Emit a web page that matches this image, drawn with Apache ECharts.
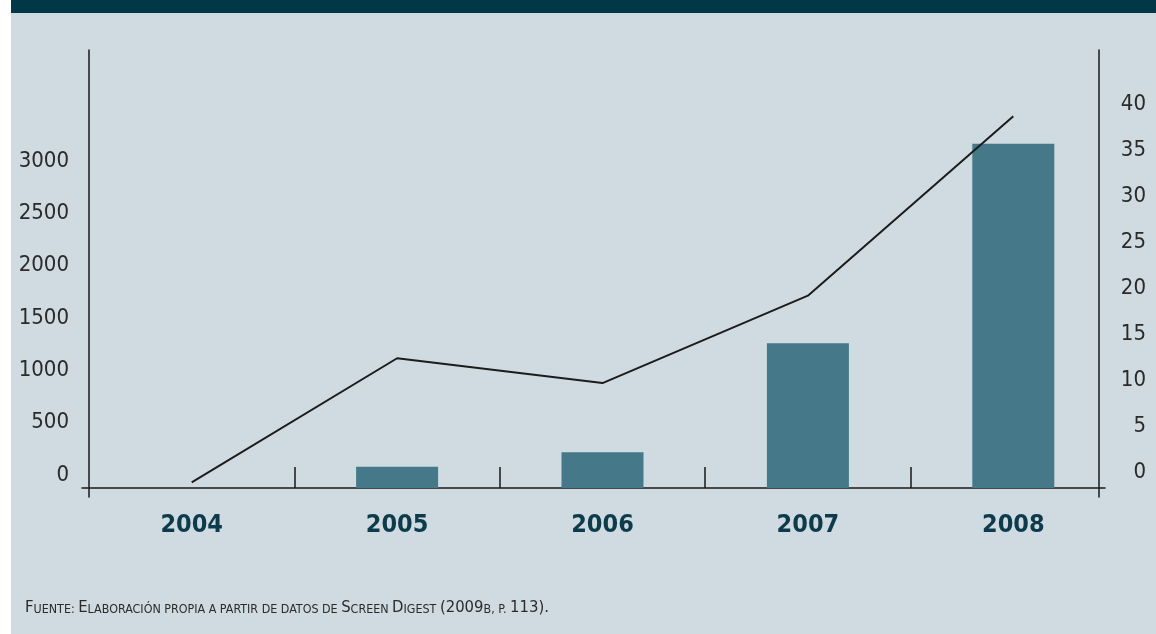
<!DOCTYPE html>
<html>
<head>
<meta charset="utf-8">
<script src="https://cdn.jsdelivr.net/npm/echarts@6/dist/echarts.min.js"></script>
<style>
html,body{margin:0;padding:0;background:#ffffff;overflow:hidden;}
#bg{position:absolute;left:11px;top:0;right:0;bottom:0;background:#cfdbe1;}
#bar{position:absolute;left:11px;top:0;right:0;height:13px;background:#023748;}
#chart{position:absolute;left:0;top:0;width:1156px;height:634px;}
</style>
</head>
<body>
<div id="bg"></div>
<div id="bar"></div>
<div id="chart"></div>
<script>
// Data
const years = ['2004', '2005', '2006', '2007', '2008'];
const screens = [null, 203, 341, 1382, 3289];      // bars, left axis
const share = [0.6, 14.1, 11.4, 20.9, 40.4];       // line, right axis
const leftTicks = [0, 500, 1000, 1500, 2000, 2500, 3000];
const rightTicks = [0, 5, 10, 15, 20, 25, 30, 35, 40];
const categoryBoundaries = [1, 2, 3, 4];

const FONT = "'DejaVu Sans Condensed', 'Liberation Sans Narrow', 'Liberation Sans', sans-serif";
const chart = echarts.init(document.getElementById('chart'), null, {renderer: 'canvas'});

chart.setOption({
  animation: false,
  backgroundColor: 'transparent',
  title: {
    left: 20,
    top: 591,
    text: '{b|F}{s|UENTE: }{b|E}{s|LABORACIÓN PROPIA A PARTIR DE DATOS DE }{b|S}{s|CREEN }{b|D}{s|IGEST }{b|(2009}{s|B, P. }{b|113).}',
    textStyle: {
      fontWeight: 'normal',
      rich: {
        b: {fontFamily: FONT, fontSize: 16.5, fontWeight: 'normal', color: '#2b2b2b', verticalAlign: 'bottom', lineHeight: 20},
        s: {fontFamily: FONT, fontSize: 12.4, fontWeight: 'normal', color: '#2b2b2b', verticalAlign: 'bottom', lineHeight: 20}
      }
    }
  },
  grid: [
    {left: 89, right: 40, top: 50, bottom: 137},
    {left: 82, right: 51, top: 50, bottom: 146}
  ],
  xAxis: [
    {
      type: 'category', gridIndex: 0, data: years,
      axisLine: {show: false}, axisTick: {show: false},
      axisLabel: {fontFamily: FONT, fontWeight: 'bold', fontSize: 25, color: '#0e3b4b', margin: 16}
    },
    {
      type: 'value', gridIndex: 1, min: -0.0341, max: 4.9465,
      axisLine: {show: true, onZero: false, lineStyle: {color: '#1a1a1a', width: 1.5}},
      axisTick: {show: true, inside: true, length: 21, customValues: categoryBoundaries, lineStyle: {color: '#1a1a1a', width: 1.5}},
      axisLabel: {show: false}, splitLine: {show: false}
    }
  ],
  yAxis: [
    {
      type: 'value', gridIndex: 0, position: 'left', min: -86, max: 4185,
      axisLine: {show: true, lineStyle: {color: '#1a1a1a', width: 1.5}},
      axisTick: {show: false}, splitLine: {show: false},
      axisLabel: {customValues: leftTicks, formatter: v => String(v), fontFamily: FONT, fontSize: 22, color: '#2a2a2a', margin: 20, verticalAlign: 'bottom', lineHeight: 26}
    },
    {
      type: 'value', gridIndex: 0, position: 'right', offset: -17, min: -0.978, max: 47.6,
      axisLine: {show: true, lineStyle: {color: '#1a1a1a', width: 1.5}},
      axisTick: {show: false}, splitLine: {show: false},
      axisLabel: {customValues: rightTicks, formatter: v => String(v), fontFamily: FONT, fontSize: 22, color: '#2a2a2a', align: 'right', margin: 47, verticalAlign: 'bottom', lineHeight: 32}
    },
    {type: 'value', gridIndex: 1, show: false, min: 0, max: 1}
  ],
  series: [
    {
      type: 'bar', xAxisIndex: 0, yAxisIndex: 0, data: screens,
      barWidth: 82, itemStyle: {color: '#457888'}
    },
    {
      type: 'line', xAxisIndex: 0, yAxisIndex: 1, data: share,
      symbol: 'none', z: 5, lineStyle: {color: '#1c1c1c', width: 2}
    }
  ]
});
</script>
</body>
</html>
